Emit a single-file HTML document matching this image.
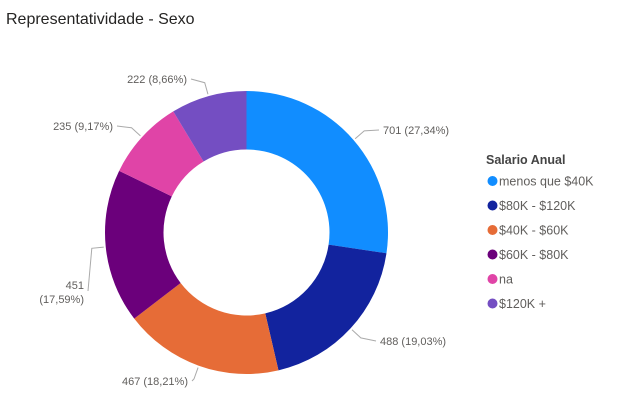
<!DOCTYPE html>
<html><head><meta charset="utf-8"><style>
body{margin:0;background:#fff;font-family:"Liberation Sans",sans-serif}
svg text{font-family:"Liberation Sans",sans-serif}
</style></head><body>
<svg id="c" width="624" height="412">
<text x="6" y="24" font-size="16" fill="#252423">Representatividade - Sexo</text>
<g id="slices"></g><g id="labels"></g>
<text x="486" y="164" font-size="12.5" font-weight="bold" fill="#444">Salario Anual</text>
<g id="legend"></g>
</svg>
<script>
const categories=["menos que $40K","$80K - $120K","$40K - $60K","$60K - $80K","na","$120K +"];
const values=[701,488,467,451,235,222];
const colors=["#118DFF","#12239E","#E66C37","#6B007B","#E044A7","#744EC2"];
const labelPos=[[383,134,"start"],[380,345,"start"],[188,385,"end"],[84,289,"end"],[113,130,"end"],[187,83,"end"]];
const ns="http://www.w3.org/2000/svg";
const cx=246.5,cy=232.5,R=141.5,r=83;
const total=values.reduce((a,b)=>a+b,0);
const sg=document.getElementById('slices'),lg=document.getElementById('labels'),leg=document.getElementById('legend');
function pt(a,rad){return [cx+rad*Math.sin(a),cy-rad*Math.cos(a)];}
let a0=0;
values.forEach((v,i)=>{
 const a1=a0+v/total*2*Math.PI;
 const big=(a1-a0)>Math.PI?1:0;
 const p1=pt(a0,R),p2=pt(a1,R),p3=pt(a1,r),p4=pt(a0,r);
 const p=document.createElementNS(ns,'path');
 p.setAttribute('d',`M${p1}A${R},${R} 0 ${big} 1 ${p2}L${p3}A${r},${r} 0 ${big} 0 ${p4}Z`);
 p.setAttribute('fill',colors[i]);
 
 
 sg.appendChild(p);
 const am=(a0+a1)/2;const s=pt(am,R+2),e=pt(am,R+14);
 const lp=labelPos[i];const tx=lp[2]=="start"?lp[0]-4:lp[0]+4;
 const ly=i==3?lp[1]+2:lp[1]-4;
 const l=document.createElementNS(ns,'polyline');
 l.setAttribute('points',`${s} ${e} ${tx},${ly}`);
 l.setAttribute('fill','none');l.setAttribute('stroke','#aaa');
 
 
 lg.appendChild(l);
 const pct=(v/total*100).toFixed(2).replace('.',',')+'%';
 const t=document.createElementNS(ns,'text');
 t.setAttribute('font-size','11');t.setAttribute('fill','#605E5C');t.setAttribute('text-anchor',lp[2]);
 
 
 if(i==3){t.innerHTML=`<tspan x="${lp[0]}" y="${lp[1]}">${v}</tspan><tspan x="${lp[0]}" y="${lp[1]+14}">(${pct})</tspan>`;}
 else{t.setAttribute('x',lp[0]);t.setAttribute('y',lp[1]);t.textContent=`${v} (${pct})`;}
 lg.appendChild(t);
 a0=a1;
});
categories.forEach((c,i)=>{
 const y=181+i*24.5;
 const g=document.createElementNS(ns,'g');
 
 
 const ci=document.createElementNS(ns,'circle');
 ci.setAttribute('cx',492.5);ci.setAttribute('cy',y);ci.setAttribute('r',5);ci.setAttribute('fill',colors[i]);
 const t=document.createElementNS(ns,'text');
 t.setAttribute('x',499);t.setAttribute('y',y+4.5);t.setAttribute('font-size','12.5');t.setAttribute('fill','#605E5C');
 t.textContent=c;
 g.appendChild(ci);g.appendChild(t);leg.appendChild(g);
});
</script>
</body></html>
